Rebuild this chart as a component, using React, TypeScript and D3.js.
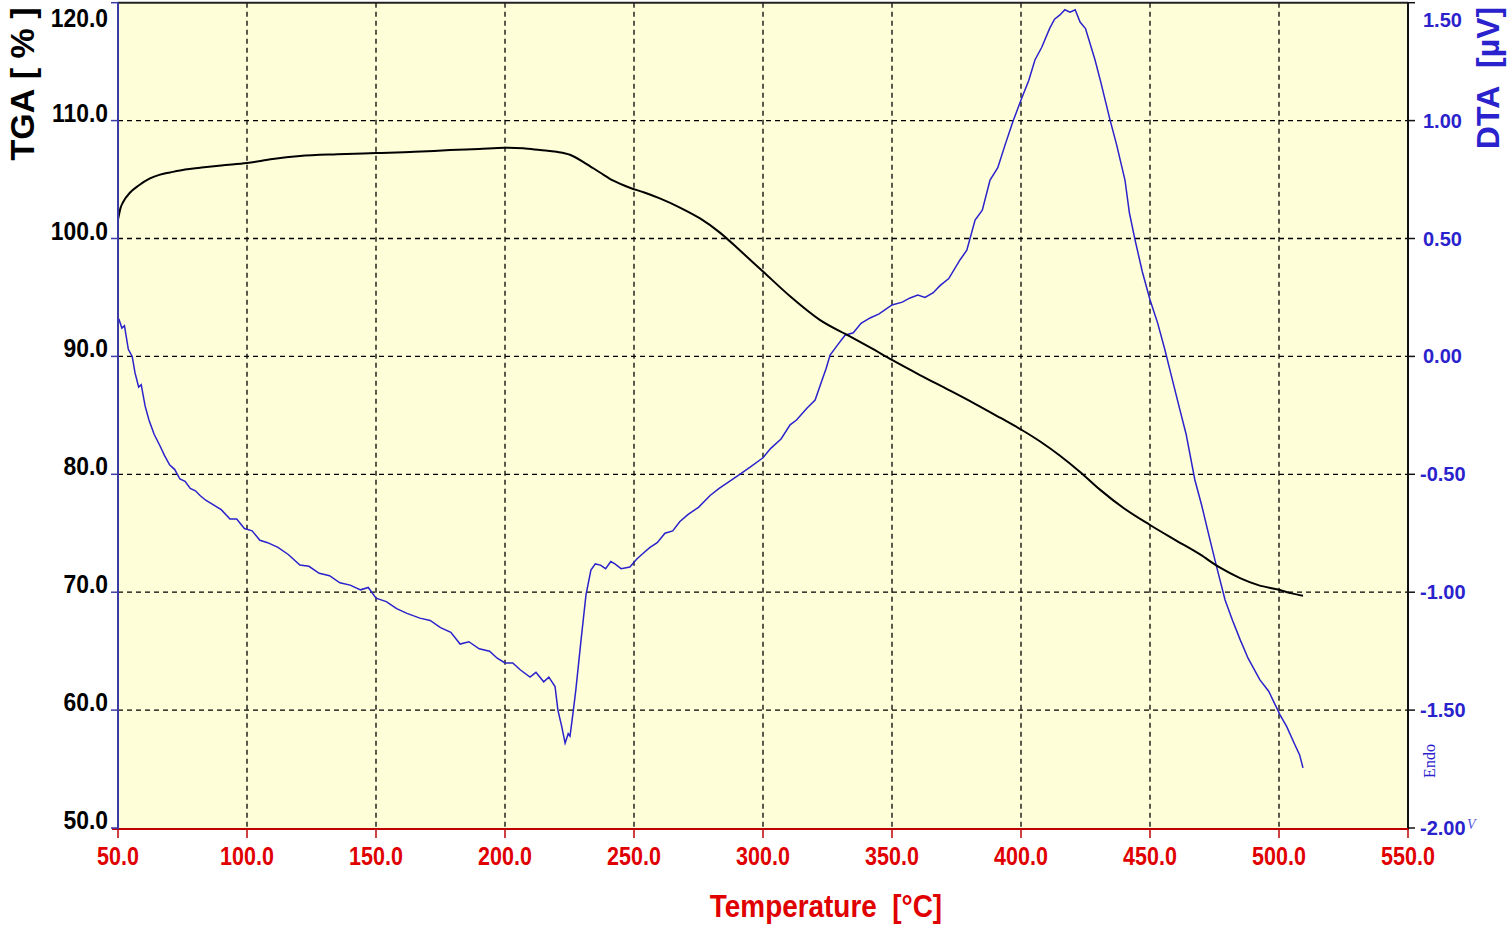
import React from "react";
import * as d3 from "d3";

// temperature (°C) / TGA (%)
const tgaTemp = [50, 51, 52, 54.7, 58, 62.4, 66, 70.2, 76, 81.8, 90, 100, 110, 120.5, 135, 150, 165, 178.7, 190, 200, 207, 213.6, 220, 225.2, 231, 236.8, 242, 248.4, 254, 260, 268, 275.6, 283.3, 291, 300, 310.5, 322, 333.7, 342, 350, 361, 372.5, 382, 391.9, 400, 408, 415, 422.9, 430.6, 440, 450, 460, 469.4, 477, 484.9, 492, 500, 505, 509.3];
const tgaValue = [101.6, 102.6, 103.1, 103.9, 104.5, 105.1, 105.4, 105.6, 105.85, 106.0, 106.2, 106.4, 106.75, 107.0, 107.15, 107.25, 107.35, 107.5, 107.6, 107.7, 107.65, 107.5, 107.35, 107.1, 106.4, 105.6, 104.9, 104.3, 103.9, 103.4, 102.6, 101.7, 100.5, 99.0, 97.2, 95.1, 93.1, 91.7, 90.7, 89.7, 88.4, 87.1, 86.0, 84.8, 83.8, 82.7, 81.6, 80.2, 78.7, 77.1, 75.7, 74.4, 73.2, 72.1, 71.2, 70.6, 70.2, 69.9, 69.7];

// temperature (°C) / DTA (µV)
const dtaTemp = [50.3, 51.5, 52.5, 54, 55.5, 56.6, 58, 59, 60.5, 62, 64, 66.3, 68, 70, 72, 74, 76, 78, 80, 81.8, 84, 87, 90, 93.4, 96, 99, 102, 105, 108, 112, 116, 120.5, 124, 128, 132, 136, 140, 144, 147, 150, 154, 158, 162, 167, 171, 175, 179, 182.6, 186, 190, 194, 197, 200, 203, 206, 209.7, 212, 215, 217, 219.4, 220.5, 222, 223.3, 224.5, 225.2, 226.5, 227.5, 229.5, 231.4, 233.3, 235, 237, 239, 241, 242.6, 245, 248.4, 251, 253, 256.2, 259, 262, 265, 267.8, 271, 275, 279.5, 283, 287, 291, 295, 300, 303, 307, 310.5, 313, 317, 320.2, 322.9, 324.5, 326, 329, 331.8, 335, 338, 341.5, 345, 350, 354, 357, 360, 362.8, 366, 368.6, 372, 376.4, 379, 382.2, 385, 388, 391, 393.8, 397, 400, 403, 405.4, 408, 411.2, 413, 415.1, 417, 419, 421, 422.9, 425, 428.7, 431, 434.5, 437, 440.3, 442, 444.2, 447, 450, 453, 455.8, 458, 461.6, 464, 467.4, 470, 473.3, 476, 479.1, 482, 484.9, 488, 492.6, 496, 500.4, 503, 506.2, 508, 509.3];
const dtaValue = [0.16, 0.12, 0.13, 0.03, 0.0, -0.07, -0.13, -0.12, -0.21, -0.27, -0.33, -0.38, -0.42, -0.46, -0.48, -0.52, -0.53, -0.56, -0.57, -0.59, -0.61, -0.63, -0.65, -0.69, -0.69, -0.73, -0.74, -0.78, -0.79, -0.81, -0.84, -0.885, -0.89, -0.92, -0.93, -0.96, -0.97, -0.99, -0.98, -1.025, -1.04, -1.07, -1.09, -1.11, -1.12, -1.15, -1.17, -1.22, -1.21, -1.24, -1.25, -1.28, -1.3, -1.3, -1.33, -1.36, -1.34, -1.38, -1.36, -1.4, -1.5, -1.57, -1.64, -1.6, -1.61, -1.5, -1.41, -1.2, -1.01, -0.906, -0.88, -0.885, -0.9, -0.87, -0.88, -0.9, -0.893, -0.86, -0.84, -0.81, -0.79, -0.75, -0.74, -0.7, -0.67, -0.64, -0.59, -0.56, -0.53, -0.5, -0.47, -0.43, -0.39, -0.35, -0.29, -0.27, -0.22, -0.185, -0.1, -0.05, 0.006, 0.05, 0.09, 0.1, 0.14, 0.163, 0.18, 0.218, 0.23, 0.248, 0.26, 0.25, 0.27, 0.3, 0.33, 0.41, 0.45, 0.578, 0.62, 0.748, 0.8, 0.896, 1.0, 1.087, 1.17, 1.257, 1.31, 1.393, 1.43, 1.448, 1.47, 1.46, 1.47, 1.418, 1.39, 1.257, 1.16, 1.003, 0.9, 0.748, 0.61, 0.494, 0.36, 0.24, 0.14, 0.027, -0.07, -0.227, -0.33, -0.524, -0.63, -0.78, -0.9, -1.033, -1.12, -1.2, -1.28, -1.372, -1.42, -1.52, -1.57, -1.648, -1.69, -1.745];

const xTicks = [50, 100, 150, 200, 250, 300, 350, 400, 450, 500, 550];
const tgaTicks = [50, 60, 70, 80, 90, 100, 110, 120];
const dtaTicks = [-2, -1.5, -1, -0.5, 0, 0.5, 1, 1.5];

const W = 1508;
const H = 927;
const left = 118;
const right = 1408;
const top = 2.7;
const bottom = 828;

export default function App() {
  const x = d3.scaleLinear().domain([50, 550]).range([left, right]);
  const yT = d3.scaleLinear().domain([50, 120]).range([bottom, top]);
  const yD = d3.scaleLinear().domain([-2, 1.5]).range([bottom, top]);

  const tgaLine = d3
    .line<number>()
    .x((d, i) => x(tgaTemp[i]))
    .y((d) => yT(d))
    .curve(d3.curveMonotoneX);
  const dtaLine = d3
    .line<number>()
    .x((d, i) => x(dtaTemp[i]))
    .y((d) => yD(d));

  const bold = { fontFamily: "'Liberation Sans', Arial, sans-serif", fontWeight: 700, whiteSpace: "pre" as const };

  return (
    <svg width={W} height={H} style={{ position: "absolute", left: 0, top: 0, background: "#fff" }}>
      <rect x={left} y={top} width={right - left} height={bottom - top} fill="#FEFED8" />

      {/* grid */}
      {xTicks.slice(1, -1).map((t) => (
        <line key={"gx" + t} x1={x(t)} x2={x(t)} y1={top} y2={bottom} stroke="#000" strokeWidth={1.3} strokeDasharray="5,4" />
      ))}
      {tgaTicks.slice(1, -1).map((t) => (
        <line key={"gy" + t} x1={left} x2={right} y1={yT(t)} y2={yT(t)} stroke="#000" strokeWidth={1.3} strokeDasharray="5,4" />
      ))}

      {/* curves */}
      <path d={dtaLine(dtaValue) || ""} fill="none" stroke="#2A22CC" strokeWidth={1.5} />
      <path d={tgaLine(tgaValue) || ""} fill="none" stroke="#000" strokeWidth={2} />

      {/* frame */}
      <line x1={left} x2={right} y1={top} y2={top} stroke="#222" strokeWidth={2} />
      <line x1={right} x2={right} y1={top} y2={bottom + 2} stroke="#111" strokeWidth={2} />
      <line x1={left - 6} x2={right} y1={bottom + 1} y2={bottom + 1} stroke="#C00000" strokeWidth={2} />
      <line x1={left} x2={left} y1={top} y2={bottom + 2} stroke="#3B3BA8" strokeWidth={2} />

      {/* left axis */}
      {tgaTicks.map((t) => (
        <g key={"lt" + t}>
          <line x1={left - 7} x2={left} y1={yT(t)} y2={yT(t)} stroke="#3B3BA8" strokeWidth={1.5} />
          <text
            transform={`translate(108,${t === 120 ? 27 : yT(t) + 1}) scale(0.88,1)`}
            textAnchor="end"
            fontSize={26}
            fill="#000"
            style={bold}
          >
            {t.toFixed(1)}
          </text>
        </g>
      ))}

      {/* right axis */}
      {dtaTicks.map((t) => (
        <g key={"rt" + t}>
          <line x1={right} x2={right + 7} y1={yD(t)} y2={yD(t)} stroke="#111" strokeWidth={1.5} />
          <text
            x={t < 0 ? 1420 : 1423}
            y={t === 1.5 ? 27 : yD(t) + 7}
            fontSize={20}
            fill="#2A22CC"
            style={bold}
          >
            {t.toFixed(2)}
          </text>
        </g>
      ))}

      {/* bottom axis */}
      {xTicks.map((t) => (
        <g key={"bt" + t}>
          <line x1={x(t)} x2={x(t)} y1={bottom + 1} y2={bottom + 10} stroke="#C00000" strokeWidth={1.5} />
          <text
            transform={`translate(${x(t)},865) scale(0.86,1)`}
            textAnchor="middle"
            fontSize={25}
            fill="#E00000"
            style={bold}
          >
            {t.toFixed(1)}
          </text>
        </g>
      ))}

      {/* titles */}
      <text transform="translate(826,917) scale(0.9,1)" textAnchor="middle" fontSize={31} fill="#E00000" style={bold}>
        {"Temperature\u00A0\u00A0[°C]"}
      </text>
      <text transform="translate(34,84) rotate(-90)" textAnchor="middle" fontSize={34} fill="#000" style={bold}>
        {"TGA\u00A0[\u00A0%\u00A0]"}
      </text>
      <text transform="translate(1499,78) rotate(-90)" textAnchor="middle" fontSize={32} fill="#2A22CC" style={bold}>
        {"DTA\u00A0\u00A0[µV]"}
      </text>
      <text
        transform="translate(1435,761) rotate(-90)"
        textAnchor="middle"
        fontSize={16}
        fill="#2A22CC"
        fontFamily="'Liberation Serif', 'Times New Roman', serif"
      >
        Endo
      </text>
      <text x={1467} y={829} fontSize={14} fontStyle="italic" fill="#5555DD" fontFamily="'Liberation Serif', serif">
        V
      </text>
    </svg>
  );
}
